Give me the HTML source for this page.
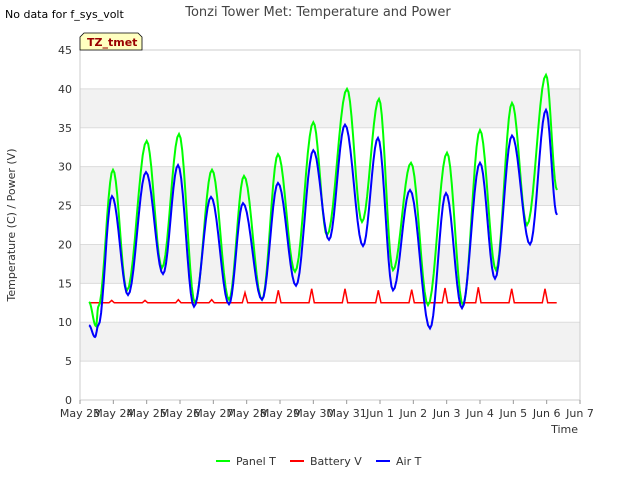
<!DOCTYPE html>
<html><head><meta charset="utf-8"><style>
body{margin:0;background:#fff;font-family:"Liberation Sans",sans-serif}
svg text{font-family:"DejaVu Sans","Liberation Sans",sans-serif}
</style></head><body>
<svg id="c" width="640" height="480" viewBox="0 0 640 480">
<rect width="640" height="480" fill="#fff"/>
<text x="318" y="16" text-anchor="middle" font-size="13" fill="#444">Tonzi Tower Met: Temperature and Power</text>
<text x="5" y="18" font-size="11" fill="#000">No data for f_sys_volt</text>
<g id="plot"></g>
<g>
<path d="M80,50 L80,37 L84,33 L138,33 L142,37 L142,50 Z" fill="#ffffc0" stroke="#000" stroke-width="0.8"/>
<text x="87" y="46" font-size="11" font-weight="bold" fill="#990000">TZ_tmet</text>
</g>
<text x="15" y="225" font-size="11" fill="#333" text-anchor="middle" transform="rotate(-90 15 225)">Temperature (C) / Power (V)</text>
<text x="578" y="433" font-size="11" fill="#333" text-anchor="end">Time</text>
<g>
<g><line x1="216" y1="461" x2="230" y2="461" stroke="#00ff00" stroke-width="2"/><text x="236" y="465" font-size="11" fill="#333">Panel T</text></g>
<g><line x1="290" y1="461" x2="304" y2="461" stroke="#ff0000" stroke-width="2"/><text x="310" y="465" font-size="11" fill="#333">Battery V</text></g>
<g><line x1="376" y1="461" x2="390" y2="461" stroke="#0000ff" stroke-width="2"/><text x="396" y="465" font-size="11" fill="#333">Air T</text></g>
</g>
</svg>
<script>
const xTickLabels=["May 23","May 24","May 25","May 26","May 27","May 28","May 29","May 30","May 31","Jun 1","Jun 2","Jun 3","Jun 4","Jun 5","Jun 6","Jun 7"];
const yTicks=[0,5,10,15,20,25,30,35,40,45];
const panelDays=[0.27,0.48,0.55,0.99,1.41,2.0,2.46,2.97,3.45,3.96,4.47,4.92,5.46,5.94,6.45,7.0,7.41,8.01,8.46,8.97,9.39,9.93,10.44,11.01,11.49,12.0,12.48,12.96,13.41,13.98,14.31];
const panelVals=[12.6,9.5,12,29.6,14.1,33.3,17,34.2,12.5,29.6,12.9,28.8,12.9,31.6,16.5,35.7,21.2,40,22.9,38.7,16.7,30.5,12.2,31.8,12.2,34.7,16.7,38.2,22.5,41.8,27];
const airDays=[0.27,0.45,0.55,0.96,1.44,1.98,2.49,2.94,3.42,3.93,4.47,4.89,5.46,5.94,6.48,7.0,7.47,7.95,8.49,8.94,9.39,9.9,10.5,10.98,11.46,12.0,12.45,12.96,13.5,13.98,14.31];
const airVals=[9.6,8.1,9.6,26.2,13.5,29.3,16.2,30.2,12,26.1,12.3,25.3,12.9,27.9,14.7,32.1,20.6,35.4,19.8,33.7,14.1,27,9.2,26.6,11.8,30.5,15.6,34,20,37.3,23.8];
const batteryBase=12.5;
const batterySpikes=[12.8,12.8,12.9,12.9,13.8,14.1,14.3,14.3,14.1,14.2,14.4,14.5,14.3,14.3,14.1];
const X0=80,X1=580,Y0=400,Y1=50;
const xs=d=>X0+d*(X1-X0)/15;
const ys=v=>Y0-v*(Y0-Y1)/45;
const NS="http://www.w3.org/2000/svg";
const g=document.getElementById('plot');
function el(t,a){const e=document.createElementNS(NS,t);for(const k in a)e.setAttribute(k,a[k]);g.appendChild(e);return e;}
for(let i=0;i<yTicks.length-1;i++){
 if(i%2===1){const r=el('rect',{x:X0,y:ys(yTicks[i+1]),width:X1-X0,height:ys(yTicks[i])-ys(yTicks[i+1]),fill:'#f2f2f2'});
 
 }
}
yTicks.forEach(v=>{
 const l=el('line',{x1:X0,x2:X1,y1:ys(v),y2:ys(v),stroke:'#dcdcdc','stroke-width':1});
 
 
 const t=el('text',{x:X0-8,y:ys(v)+4,'text-anchor':'end','font-size':11,fill:'#333'});
 t.textContent=v;
 
 
});
const frame=el('rect',{x:X0,y:Y1,width:X1-X0,height:Y0-Y1,fill:'none',stroke:'#ccc'});


xTickLabels.forEach((s,i)=>{
 const tk=el('line',{x1:xs(i),x2:xs(i),y1:Y0,y2:Y0+4,stroke:'#999'});
 
 
 const t=el('text',{x:xs(i),y:Y0+17,'text-anchor':'middle','font-size':11,fill:'#333'});
 t.textContent=s;
 
 
});
function smoothPath(days,vals){
 let d='';
 for(let i=0;i<days.length-1;i++){
  const n=10;
  for(let k=0;k<=n;k++){
   if(i>0&&k===0)continue;
   const t=k/n,m=(1-Math.cos(Math.PI*t))/2;
   const x=xs(days[i]+(days[i+1]-days[i])*t),y=ys(vals[i]+(vals[i+1]-vals[i])*m);
   d+=(d?'L':'M')+x.toFixed(1)+','+y.toFixed(1);
  }
 }
 return d;
}
const bd=[0.27],bv=[batteryBase];
batterySpikes.forEach((s,i)=>{const c=i+0.95;if(c>14.3)return;bd.push(c-0.08,c,c+0.08);bv.push(batteryBase,s,batteryBase);});
bd.push(14.3);bv.push(batteryBase);
let bp='';bd.forEach((d,i)=>{bp+=(i?'L':'M')+xs(d).toFixed(1)+','+ys(bv[i]).toFixed(1);});
const pb=el('path',{d:bp,fill:'none',stroke:'#ff0000','stroke-width':1.5});


const pp=el('path',{d:smoothPath(panelDays,panelVals),fill:'none',stroke:'#00ff00','stroke-width':2});


const pa=el('path',{d:smoothPath(airDays,airVals),fill:'none',stroke:'#0000ff','stroke-width':2});


</script>
</body></html>
